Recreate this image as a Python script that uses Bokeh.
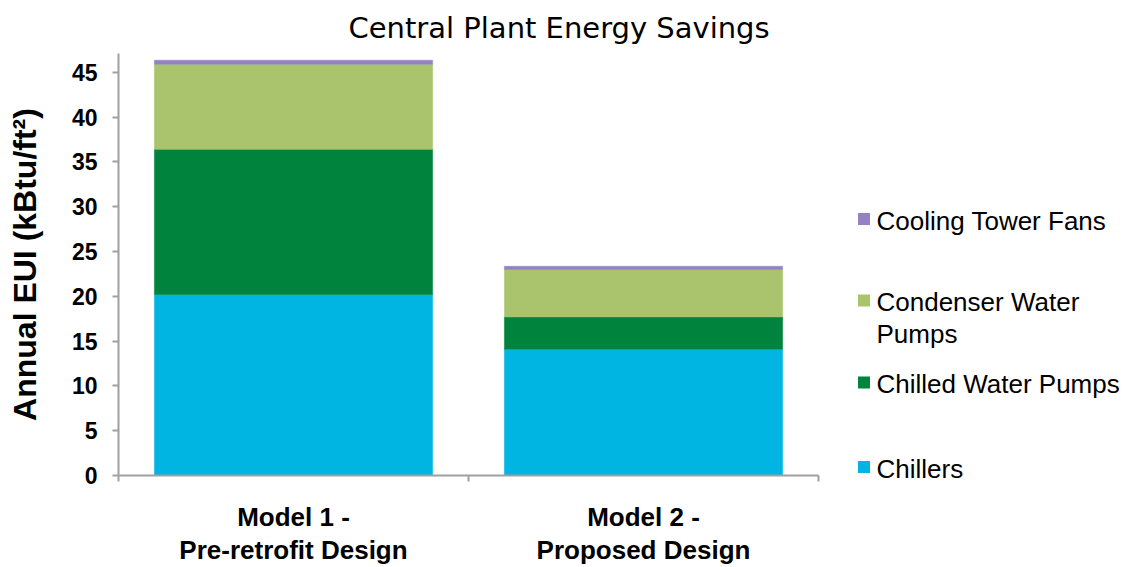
from bokeh.plotting import figure
from bokeh.models import Range1d, FixedTicker, ColumnDataSource
from bokeh.layouts import row, column
from bokeh.core.properties import value
from bokeh.embed import file_html
from bokeh.resources import INLINE

# ---- data ----
categories = ["Model 1 -\nPre-retrofit Design", "Model 2 -\nProposed Design"]
series = ["Chillers", "Chilled Water Pumps", "Condenser Water Pumps", "Cooling Tower Fans"]
chillers = [20.2, 14.1]
chilled_water_pumps = [16.2, 3.6]
condenser_water_pumps = [9.5, 5.3]
cooling_tower_fans = [0.45, 0.35]
y_ticks = [0, 5, 10, 15, 20, 25, 30, 35, 40, 45]
colors = ["#00B5E2", "#00843D", "#A9C46C", "#9582C3"]

AXIS_GRAY = "#A0A0A0"
FONT = "Liberation Sans"
FRAME_TOP, FRAME_BOTTOM = 53, 475

x_pos = [i + 0.5 for i in range(len(categories))]
keys = ["chillers", "chw", "cond", "fans"]
src = ColumnDataSource(dict(x=x_pos, chillers=chillers, chw=chilled_water_pumps,
                            cond=condenser_water_pumps, fans=cooling_tower_fans))

p = figure(width=840, height=567, x_range=Range1d(0, len(categories)), y_range=Range1d(0, 47.1),
           output_backend="svg", toolbar_location=None,
           min_border_left=118, min_border_right=22, min_border_top=FRAME_TOP,
           min_border_bottom=567 - FRAME_BOTTOM)
p.vbar_stack(keys, x="x", width=0.795, source=src, fill_color=colors, line_color=colors, line_width=0.5)

p.title.text = "Central Plant Energy Savings"
p.title.align = "left"
p.title.offset = 230
p.title.text_font = "DejaVu Sans"
p.title.text_font_size = "29px"
p.title.text_font_style = "normal"
p.title.text_color = "#000000"
p.title.standoff = 17

p.xgrid.visible = False
p.ygrid.visible = False
p.outline_line_color = None

# y axis
ya = p.yaxis[0]
ya.ticker = FixedTicker(ticks=y_ticks)
ya.axis_label = "Annual EUI (kBtu/ft²)"
ya.axis_label_text_font = FONT
ya.axis_label_text_font_size = "32px"
ya.axis_label_text_font_style = "bold"
ya.axis_label_text_color = "#000000"
ya.axis_label_standoff = 26
ya.major_label_text_font = FONT
ya.major_label_text_font_size = "23px"
ya.major_label_text_font_style = "bold"
ya.major_label_text_color = "#000000"
ya.major_label_standoff = 15
ya.major_tick_out = 6
ya.major_tick_in = 0
ya.minor_tick_out = 0
ya.minor_tick_in = 0
ya.axis_line_color = AXIS_GRAY
ya.axis_line_width = 2
ya.major_tick_line_color = AXIS_GRAY
ya.major_tick_line_width = 2

# x axis
xa = p.xaxis[0]
xa.ticker = FixedTicker(ticks=x_pos, minor_ticks=list(range(len(categories) + 1)))
xa.major_label_overrides = {x: c for x, c in zip(x_pos, categories)}
xa.major_label_text_font = FONT
xa.major_label_text_font_size = "26px"
xa.major_label_text_font_style = "bold"
xa.major_label_text_color = "#000000"
xa.major_label_text_line_height = 1.1
xa.major_label_standoff = 20
xa.major_tick_out = 0
xa.major_tick_in = 0
xa.minor_tick_out = 6
xa.minor_tick_in = 0
xa.minor_tick_line_color = AXIS_GRAY
xa.minor_tick_line_width = 2
xa.axis_line_color = AXIS_GRAY
xa.axis_line_width = 2

# ---- legend panel: data units = screen px ----
leg = figure(width=290, height=567, x_range=Range1d(840, 1130), y_range=Range1d(567, 0),
             output_backend="svg", toolbar_location=None, min_border=0,
             x_axis_location=None, y_axis_location=None)
leg.outline_line_color = None
leg.xgrid.visible = False
leg.ygrid.visible = False

leg_labels = ["Cooling Tower Fans", "Condenser Water\nPumps", "Chilled Water Pumps", "Chillers"]
leg_colors = colors[::-1]
row_y = [218.5, 300, 382, 466.5]
line_h = 31.5
text_y = [y + (lab.count("\n")) * line_h / 2 + 1.5 for y, lab in zip(row_y, leg_labels)]

leg.scatter(x=[863.5] * len(row_y), y=row_y, marker="square", size=12,
            fill_color=leg_colors, line_color=None)
leg.text(x=[876] * len(row_y), y=text_y, text=leg_labels, text_font=value(FONT),
         text_font_size="26px", text_baseline="middle", text_align="left",
         text_color="#000000", text_line_height=1.05)

layout = row(p, column(leg))
open("out.html", "w").write(file_html(layout, INLINE))
